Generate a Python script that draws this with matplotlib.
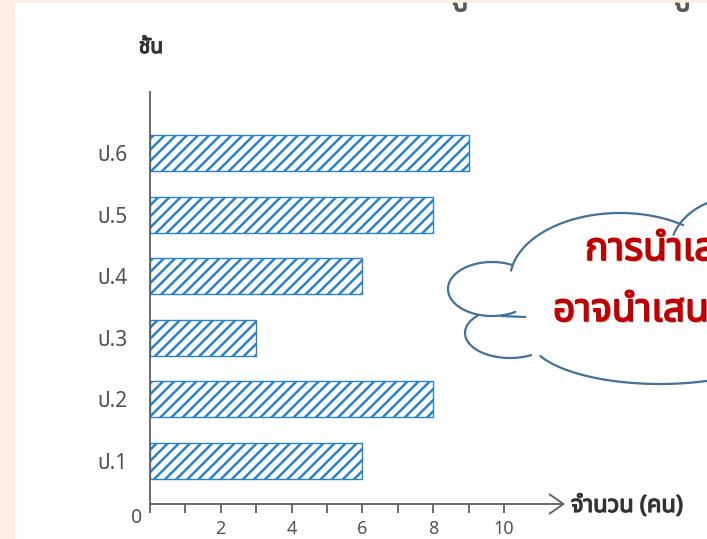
import numpy as np
import matplotlib
matplotlib.use('Agg')
import matplotlib.pyplot as plt
from matplotlib import font_manager as fm
from matplotlib.ft2font import FT2Font
import matplotlib.patheffects as pe
from matplotlib.patches import Rectangle

# ---------------- data ----------------
categories = ['ป.1', 'ป.2', 'ป.3', 'ป.4', 'ป.5', 'ป.6']
students = [6, 8, 3, 6, 8, 9]
x_ticks = [0, 1, 2, 3, 4, 5, 6, 7, 8, 9, 10]
x_tick_labels = ['', '', '2', '', '4', '', '6', '', '8', '', '10']
y_title = 'ชั้น'
x_title = 'จำนวน (คน)'
cloud_lines = ['การนำเสนอข้อมูลด้วยแผนภูมิแท่ง', 'อาจนำเสนอในแนวนอนก็ได้']
slide_title = 'ตัวอย่างการนำเสนอข้อมูลด้วยแผนภูมิแท่งแนวนอน'


# ---------------- font lookup (Thai) ----------------
def find_thai_family():
    prefs = ['Noto Sans Thai', 'Noto Sans Thai Looped', 'Sarabun', 'Tahoma',
             'Leelawadee', 'Loma', 'Garuda', 'Waree', 'Norasi', 'Kinnari']
    found = {}
    for f in fm.fontManager.ttflist:
        if 'CJK' in f.name:
            continue
        try:
            cm = FT2Font(f.fname).get_charmap()
        except Exception:
            continue
        if 0x0E01 in cm and 0x0E33 in cm:
            found.setdefault(f.name, []).append(f.weight)
    for p in prefs:
        if p in found:
            return p
    if found:
        return sorted(found)[0]
    return 'DejaVu Sans'


THAI = find_thai_family()
FAM = [THAI, 'DejaVu Sans']
plt.rcParams['font.family'] = FAM
plt.rcParams['hatch.linewidth'] = 1.8

W, H = 707, 539
fig = plt.figure(figsize=(W / 100, H / 100), dpi=100, facecolor='#FDEEE3')

# white slide area
fig.patches.append(Rectangle((15 / W, 0), 1 - 15 / W, 1 - 3 / H,
                             transform=fig.transFigure, facecolor='white',
                             edgecolor='none', zorder=-5))

GRAY = '#5f5f5f'
BLUE = '#2B82CC'


def fake_bold(color, lw=0.9):
    return [pe.Stroke(linewidth=lw, foreground=color), pe.Normal()]


# ---------------- main chart ----------------
px_per_unit = 35.4
left_px, right_px, bot_px, top_px = 150, 565, 504, 92
ax = fig.add_axes([left_px / W, 1 - bot_px / H, (right_px - left_px) / W,
                   (bot_px - top_px) / H])
ax.set_facecolor('none')
ax.set_xlim(0, (right_px - left_px) / px_per_unit)
ax.set_ylim(0.30, 6.99)

ypos = np.arange(1, len(categories) + 1)
ax.barh(ypos, students, height=0.585, color='white', edgecolor=BLUE,
        hatch='///', linewidth=1.0)

for s in ['top', 'right', 'bottom']:
    ax.spines[s].set_visible(False)
ax.spines['left'].set_color(GRAY)
ax.spines['left'].set_linewidth(1.3)

ax.annotate('', xy=(1, 0), xytext=(0, 0), xycoords='axes fraction',
            arrowprops=dict(arrowstyle='->,head_length=0.5,head_width=0.35',
                            color=GRAY, lw=1.3, shrinkA=0, shrinkB=0,
                            mutation_scale=20))

ax.set_xticks(x_ticks)
ax.set_xticklabels(x_tick_labels)
ax.tick_params(axis='x', length=6.5, width=1.3, color=GRAY, direction='out',
               pad=5, labelsize=13, labelcolor='#555555')
ax.set_yticks(ypos)
ax.set_yticklabels(categories)
ax.tick_params(axis='y', length=0, pad=16, labelsize=15, labelcolor='#505050')
for lbl in ax.get_yticklabels() + ax.get_xticklabels():
    lbl.set_fontfamily(FAM)

fig.text(137 / W, 1 - 518 / H, '0', ha='center', va='center', fontsize=14,
         color='#555555')
fig.text(151 / W, 1 - 53 / H, y_title, ha='center', va='baseline', fontsize=15,
         color='#333333', path_effects=fake_bold('#333333'))
fig.text(571 / W, 1 - 512 / H, x_title, ha='left', va='baseline', fontsize=17,
         color='#333333', path_effects=fake_bold('#333333'))

# slide title (cut off at top, as in the slide)
fig.text(20 / W, 1 + 0.5 / H, slide_title, ha='left', va='baseline', fontsize=34,
         color='#595959')

# ---------------- cloud callout ----------------
cax = fig.add_axes([0, 0, 1, 1])
cax.set_xlim(0, W)
cax.set_ylim(H, 0)
cax.axis('off')
cax.patch.set_alpha(0)

CLOUD = '#41719C'


def lobe(cx, cy, a, b, t1, t2):
    t = np.deg2rad(np.linspace(t1, t2, 120))
    cax.plot(cx + a * np.cos(t), cy - b * np.sin(t), color=CLOUD, lw=1.6,
             solid_capstyle='round')


lobe(620, 280, 110, 67, 55, 172)      # top
lobe(742, 252, 72, 56, 30, 162)       # top right
lobe(492, 289, 44, 27, 62, 302)       # left
lobe(510, 333, 45, 25, 136, 298)      # lower left
lobe(660, 338, 130, 46, 203, 330)     # bottom
cax.plot([502, 525], [316, 317], color=CLOUD, lw=1.6)

RED = '#C00000'
cloud_fx = [pe.SimplePatchShadow(offset=(1.2, -1.2), shadow_rgbFace='#888888',
                                 alpha=0.5),
            pe.Stroke(linewidth=1.1, foreground=RED), pe.Normal()]
fig.text(585 / W, 1 - 260 / H, cloud_lines[0], ha='left', va='baseline',
         fontsize=28, color=RED, path_effects=cloud_fx)
fig.text(553 / W, 1 - 321 / H, cloud_lines[1], ha='left', va='baseline',
         fontsize=28, color=RED, path_effects=cloud_fx)

fig.savefig('out.png', dpi=100, facecolor=fig.get_facecolor())
